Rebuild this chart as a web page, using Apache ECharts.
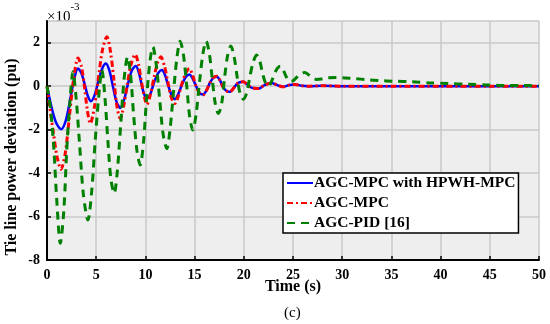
<!DOCTYPE html>
<html>
<head>
<meta charset="utf-8">
<script src="https://cdn.jsdelivr.net/npm/echarts@6/dist/echarts.min.js"></script>
<style>
html,body{margin:0;padding:0;background:#fff;}
#chart{width:550px;height:324px;}
</style>
</head>
<body>
<div id="chart"></div>
<script>
// Series names
var seriesNames = ['AGC-MPC with HPWH-MPC', 'AGC-MPC', 'AGC-PID [16]'];

// Blue: AGC-MPC with HPWH-MPC (time s, deviation x1e-3 pu)
var blueT = [0, 0.35, 0.67, 1.0, 1.45, 1.9, 2.3, 2.7, 3.15, 3.5, 3.85, 4.15, 4.47, 4.85, 5.2, 5.6, 5.99, 6.35, 6.7, 7.05, 7.44, 7.85, 8.2, 8.6, 9.03, 9.35, 9.65, 9.9, 10.2, 10.55, 10.9, 11.3, 11.67, 12.0, 12.3, 12.65, 13.0, 13.35, 13.7, 14.1, 14.47, 14.8, 15.15, 15.5, 15.84, 16.2, 16.55, 16.9, 17.26, 17.6, 17.9, 18.25, 18.6, 18.95, 19.3, 19.6, 19.96, 20.3, 20.7, 21.1, 21.5, 22.1, 22.8, 23.4, 24.0, 24.6, 25.2, 25.9, 26.6, 28, 30, 35, 40, 45, 50];
var blueV = [0, -0.75, -1.33, -1.75, -1.98, -1.6, -0.75, 0.2, 0.81, 0.6, 0.05, -0.45, -0.69, -0.4, 0.2, 0.8, 1.04, 0.7, 0.0, -0.7, -1.0, -0.6, 0.05, 0.7, 0.93, 0.6, 0.0, -0.4, -0.57, -0.3, 0.2, 0.6, 0.74, 0.5, 0.05, -0.4, -0.6, -0.35, 0.05, 0.42, 0.54, 0.35, 0.0, -0.3, -0.38, -0.2, 0.15, 0.38, 0.43, 0.25, -0.05, -0.22, -0.26, -0.1, 0.1, 0.18, 0.2, 0.1, -0.05, -0.1, -0.11, 0.05, 0.15, 0.05, -0.03, 0.05, 0.08, 0.02, 0, 0.02, 0, 0, 0, 0, 0];

// Red: AGC-MPC
var redT = [0, 0.35, 0.67, 1.0, 1.42, 1.85, 2.3, 2.7, 3.15, 3.5, 3.8, 4.1, 4.4, 4.8, 5.2, 5.65, 6.09, 6.45, 6.8, 7.1, 7.44, 7.8, 8.2, 8.6, 8.96, 9.3, 9.6, 9.9, 10.15, 10.5, 10.9, 11.25, 11.57, 11.95, 12.3, 12.65, 13.0, 13.35, 13.7, 14.1, 14.47, 14.8, 15.15, 15.5, 15.84, 16.2, 16.55, 16.9, 17.26, 17.6, 17.9, 18.25, 18.6, 18.95, 19.3, 19.6, 19.96, 20.3, 20.7, 21.1, 21.5, 22.1, 22.8, 23.4, 24.0, 24.6, 25.2, 25.9, 26.6, 28, 30, 35, 40, 45, 50];
var redV = [0, -1.2, -2.2, -3.2, -3.82, -3.1, -1.3, 0.3, 1.3, 0.9, 0.0, -1.1, -1.72, -1.0, 0.3, 1.7, 2.27, 1.6, 0.3, -0.9, -1.49, -0.9, 0.2, 1.1, 1.46, 1.0, 0.2, -0.5, -0.84, -0.4, 0.45, 1.1, 1.35, 0.9, 0.15, -0.55, -0.8, -0.45, 0.1, 0.6, 0.81, 0.5, 0.0, -0.32, -0.41, -0.2, 0.15, 0.4, 0.46, 0.25, -0.05, -0.22, -0.26, -0.1, 0.1, 0.18, 0.2, 0.1, -0.05, -0.1, -0.11, 0.05, 0.15, 0.05, -0.03, 0.05, 0.08, 0.02, 0, 0.02, 0, 0, 0, 0, 0];

// Green: AGC-PID [16]
var greenT = [0, 0.35, 0.67, 1.0, 1.35, 1.7, 2.0, 2.3, 2.64, 2.95, 3.3, 3.7, 4.16, 4.55, 4.9, 5.25, 5.58, 5.9, 6.2, 6.5, 6.83, 7.15, 7.5, 7.85, 8.19, 8.5, 8.8, 9.15, 9.47, 9.8, 10.1, 10.45, 10.76, 11.1, 11.45, 11.8, 12.18, 12.5, 12.85, 13.2, 13.53, 13.85, 14.2, 14.5, 14.82, 15.15, 15.5, 15.85, 16.17, 16.5, 16.8, 17.1, 17.42, 17.75, 18.05, 18.35, 18.68, 19.0, 19.3, 19.6, 19.96, 20.3, 20.6, 20.95, 21.3, 21.6, 21.9, 22.2, 22.5, 22.8, 23.1, 23.4, 23.7, 24.0, 24.3, 24.7, 25.0, 25.4, 25.8, 26.2, 26.6, 27.0, 27.4, 27.9, 28.4, 29.4, 30.3, 31.3, 32.5, 33.8, 35.2, 37.1, 38.9, 40.8, 42.7, 44.7, 46.5, 48.4, 50];
var greenV = [0, -1.0, -2.7, -5.3, -7.23, -5.8, -3.0, -0.9, 0.66, -0.5, -2.6, -5.0, -6.16, -4.8, -2.5, -0.5, 0.74, -0.6, -2.6, -4.3, -4.93, -3.9, -1.7, 0.4, 1.35, 0.5, -1.3, -3.0, -3.63, -2.6, -0.7, 1.1, 1.81, 1.0, -0.6, -2.2, -2.87, -2.0, -0.3, 1.3, 2.07, 1.5, 0.0, -1.4, -2.02, -1.3, 0.2, 1.5, 2.07, 1.5, 0.3, -0.8, -1.26, -0.8, 0.4, 1.4, 1.85, 1.4, 0.5, -0.3, -0.6, -0.3, 0.4, 1.1, 1.43, 1.2, 0.6, 0.15, 0.0, 0.2, 0.55, 0.82, 0.92, 0.75, 0.45, 0.22, 0.25, 0.42, 0.58, 0.63, 0.52, 0.38, 0.31, 0.33, 0.38, 0.4, 0.38, 0.35, 0.3, 0.26, 0.23, 0.2, 0.15, 0.12, 0.09, 0.06, 0.03, 0.03, 0.02];

// Axis ticks
var xTicks = [0, 5, 10, 15, 20, 25, 30, 35, 40, 45, 50];
var yTicks = [-8, -6, -4, -2, 0, 2];

function pairs(t, v) { return t.map(function (x, i) { return [x, v[i]]; }); }

var serif = '"Liberation Serif", "DejaVu Serif", serif';
var chart = echarts.init(document.getElementById('chart'));
chart.setOption({
  animation: false,
  grid: {
    left: 47, right: 11, top: 21, bottom: 64,
    show: true, backgroundColor: '#eeeeee', borderWidth: 0
  },
  xAxis: {
    type: 'value', min: xTicks[0], max: xTicks[xTicks.length - 1], interval: 5,
    name: 'Time (s)', nameLocation: 'middle', nameGap: 19, nameMoveOverlap: false,
    nameTextStyle: { fontFamily: serif, fontWeight: 'bold', fontSize: 16, color: '#000' },
    axisLine: { show: true, onZero: false, lineStyle: { color: '#000', width: 2 } },
    axisTick: { show: true, inside: true, length: 4, lineStyle: { color: '#000', width: 1.5 } },
    axisLabel: { fontFamily: serif, fontWeight: 'bold', fontSize: 14, color: '#000', margin: 8 },
    splitLine: { show: true, lineStyle: { color: '#c8c8c8', width: 1.5 } }
  },
  yAxis: {
    type: 'value', min: yTicks[0], max: 3, interval: 2,
    axisLine: { show: true, onZero: false, lineStyle: { color: '#000', width: 2 } },
    axisTick: { show: true, inside: true, length: 4, lineStyle: { color: '#000', width: 1.5 } },
    axisLabel: { fontFamily: serif, fontWeight: 'bold', fontSize: 14, color: '#000', margin: 7, showMaxLabel: false },
    splitLine: { show: true, lineStyle: { color: '#c8c8c8', width: 1.5 } }
  },
  legend: {
    orient: 'vertical', left: 283, top: 173,
    data: seriesNames,
    backgroundColor: '#fff', borderColor: '#000', borderWidth: 1.5,
    padding: [2, 3, 2, 3], itemGap: 4, itemWidth: 26, itemHeight: 15,
    itemStyle: { opacity: 0 },
    textStyle: { fontFamily: serif, fontWeight: 'bold', fontSize: 15.5, color: '#000', padding: [0, 0, 0, -4] }
  },
  graphic: [
    {
      type: 'text', x: 12, y: 157, rotation: Math.PI / 2,
      style: {
        text: 'Tie line power deviation (pu)', fontFamily: serif, fontWeight: 'bold', fontSize: 16,
        fill: '#000', align: 'center', verticalAlign: 'middle'
      }
    },
    {
      type: 'text', left: 47, top: 2,
      style: {
        text: '{a|×10}{b|-3}',
        rich: {
          a: { fontFamily: serif, fontSize: 15, fill: '#000', verticalAlign: 'bottom', padding: [8, 0, 0, 0] },
          b: { fontFamily: serif, fontSize: 11, fill: '#000', verticalAlign: 'top' }
        }
      }
    },
    {
      type: 'text', left: 284, top: 306,
      style: { text: '(c)', fontFamily: serif, fontSize: 15, fill: '#000' }
    }
  ],
  series: [
    {
      name: seriesNames[0], type: 'line', data: pairs(blueT, blueV), smooth: 0.3,
      symbol: 'none', color: '#0000ff',
      lineStyle: { color: '#0000ff', width: 2.5 }
    },
    {
      name: seriesNames[1], type: 'line', data: pairs(redT, redV), smooth: 0.3,
      symbol: 'none', color: '#ff0000',
      lineStyle: { color: '#ff0000', width: 3, type: [6, 3, 2, 3] }
    },
    {
      name: seriesNames[2], type: 'line', data: pairs(greenT, greenV), smooth: 0.3,
      symbol: 'none', color: '#008000',
      lineStyle: { color: '#008000', width: 3, type: [8, 6] }
    }
  ]
});
</script>
</body>
</html>
